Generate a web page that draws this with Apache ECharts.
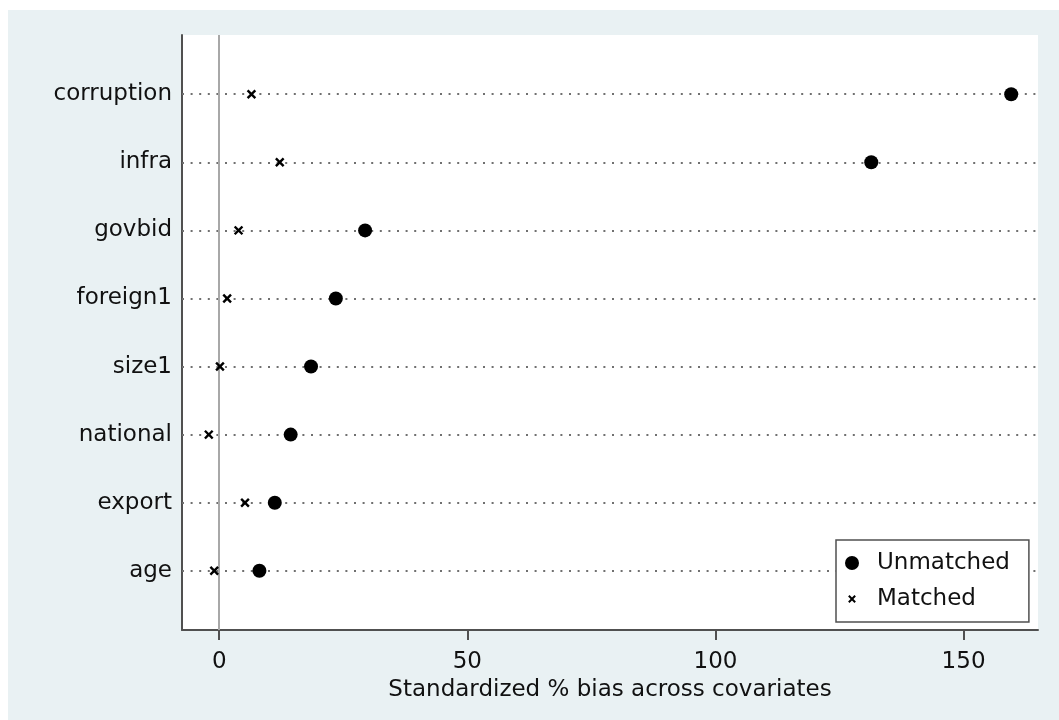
<!DOCTYPE html>
<html>
<head>
<meta charset="utf-8">
<script src="https://cdn.jsdelivr.net/npm/echarts@6/dist/echarts.min.js"></script>
<style>
html,body{margin:0;padding:0;background:#ffffff;width:1059px;height:720px;overflow:hidden;}
#chart{position:absolute;left:8px;top:10px;width:1051px;height:710px;background:#e9f1f3;}
</style>
</head>
<body>
<div id="chart"></div>
<script>
// categories listed bottom to top
const categories = ['age', 'export', 'national', 'size1', 'foreign1', 'govbid', 'infra', 'corruption'];
const unmatched = [8.1, 11.2, 14.4, 18.5, 23.5, 29.4, 131.4, 159.6];
const matched = [-1.0, 5.2, -2.1, 0.15, 1.6, 3.9, 12.2, 6.5];
const xTicks = [0, 50, 100, 150];
const xTitle = 'Standardized % bias across covariates';

const FONT = 'DejaVu Sans';
const crossPath = 'path://M-4,-4 L-4,-3.99 Z M14,14 L14.01,14 Z M1.8,0 L5,3.2 L8.2,0 L10,1.8 L6.8,5 L10,8.2 L8.2,10 L5,6.8 L1.8,10 L0,8.2 L3.2,5 L0,1.8 Z';

const chart = echarts.init(document.getElementById('chart'));
const option = {
  backgroundColor: '#e9f1f3',
  animation: false,
  textStyle: {fontFamily: FONT},
  grid: {left: 174, right: 21, top: 25, bottom: 90, show: true, backgroundColor: '#ffffff', borderWidth: 0},
  xAxis: {
    type: 'value', min: -7.5, max: 165,
    name: xTitle, nameLocation: 'middle', nameGap: 45,
    nameTextStyle: {fontFamily: FONT, fontSize: 23, color: '#111111'},
    axisLine: {show: true, onZero: false, lineStyle: {color: '#505050', width: 2}},
    axisTick: {show: true, length: 10, customValues: xTicks, lineStyle: {color: '#505050', width: 2}},
    axisLabel: {customValues: xTicks, fontFamily: FONT, fontSize: 23, color: '#111111', margin: 21},
    splitLine: {show: false}
  },
  yAxis: {
    type: 'value', min: -0.87, max: 7.87,
    axisLine: {show: true, onZero: false, lineStyle: {color: '#505050', width: 2}},
    axisTick: {show: false},
    axisLabel: {
      customValues: categories.map((c, i) => i),
      formatter: v => categories[Math.round(v)],
      fontFamily: FONT, fontSize: 23, color: '#111111', margin: 10
    },
    splitLine: {show: false}
  },
  legend: {
    orient: 'vertical', left: 828, top: 530,
    backgroundColor: '#ffffff', borderColor: '#505050', borderWidth: 1.5,
    padding: [10, 19, 10, 9], itemGap: 10, itemWidth: 14, itemHeight: 14,
    textStyle: {fontFamily: FONT, fontSize: 23, color: '#111111', lineHeight: 26, padding: [0, 0, 0, 13]},
    data: [{name: 'Unmatched', icon: 'circle'}, {name: 'Matched', icon: crossPath}]
  },
  series: [
    {
      type: 'scatter', name: 'guides', data: [], z: 1, silent: true,
      markLine: {
        silent: true, symbol: 'none', label: {show: false}, z: 1,
        data: categories.map((c, i) => ({yAxis: i, lineStyle: {color: '#707070', width: 2, type: [2, 6.6]}}))
          .concat([{xAxis: 0, lineStyle: {color: '#a8a8a8', width: 2, type: 'solid'}}])
      }
    },
    {
      type: 'scatter', name: 'Unmatched', z: 3,
      symbol: 'circle', symbolSize: 14,
      itemStyle: {color: '#000000', opacity: 1},
      data: unmatched.map((v, i) => [v, i])
    },
    {
      type: 'scatter', name: 'Matched', z: 3,
      symbol: crossPath, symbolSize: 17,
      itemStyle: {color: '#000000', opacity: 1},
      data: matched.map((v, i) => [v, i])
    }
  ]
};
chart.setOption(option);
</script>
</body>
</html>
